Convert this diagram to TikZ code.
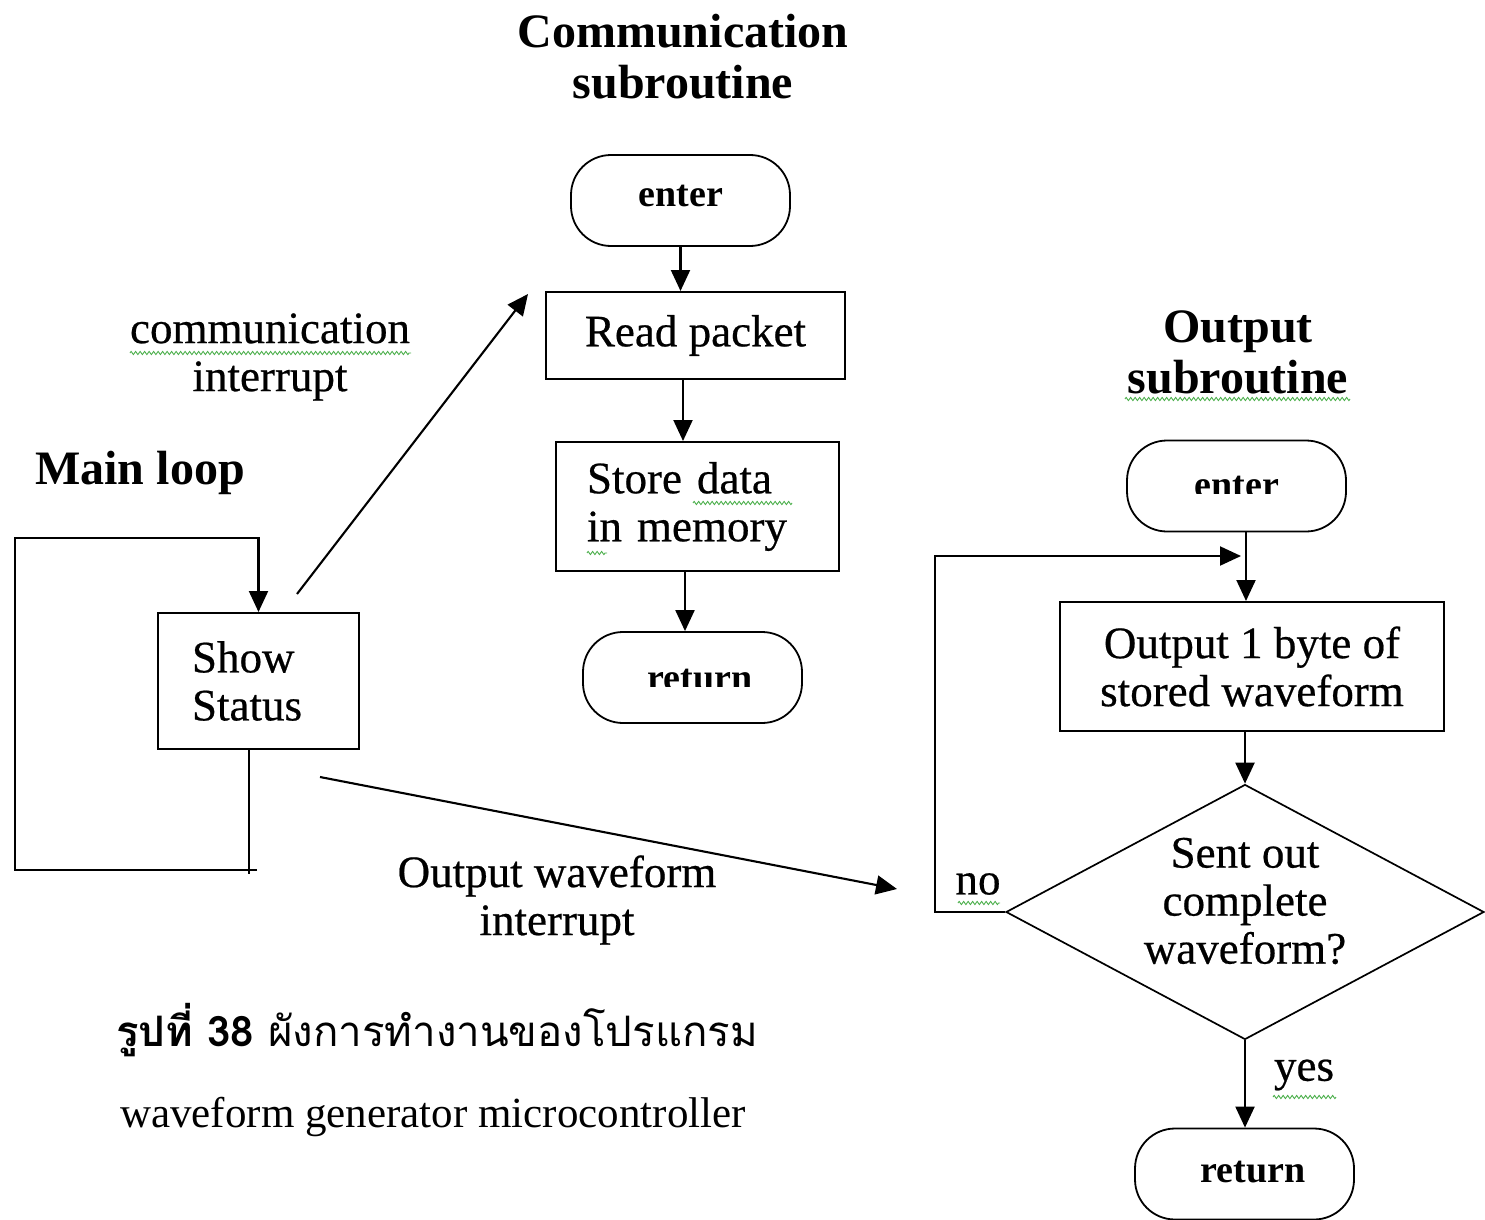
\documentclass[tikz,border=0pt]{standalone}
\usepackage{fontspec}
\setmainfont{Liberation Serif}
\newfontfamily\regfont{Liberation Serif}[FakeBold=0.5]
\newfontfamily\thaifont[Script=Thai]{Loma}
\usetikzlibrary{arrows.meta,shapes.geometric,decorations.pathmorphing}

\tikzset{
  line/.style={line width=2.1pt},
  arr/.style={line, -{Triangle[length=21pt,width=19pt]}},
  box/.style={draw, line width=2pt, inner sep=0pt, align=center,
    font=\regfont\fontsize{45}{48}\selectfont},
  term/.style={draw, line width=1.8pt, rounded corners=40pt, inner sep=0pt,
    minimum width=219pt, minimum height=91pt},
  termtext/.style={inner sep=0pt, anchor=base, font=\bfseries\fontsize{38}{40}\selectfont},
  head/.style={inner sep=0pt, align=center, font=\bfseries\fontsize{48}{51}\selectfont},
  lab/.style={inner sep=0pt, align=center, font=\regfont\fontsize{45}{48}\selectfont},
  squig/.style={draw=green!55!black!70, line width=0.9pt, decorate,
    decoration={zigzag, amplitude=1.6pt, segment length=4.5pt}},
}

\begin{document}
\begin{tikzpicture}[x=1pt,y=-1pt]
\useasboundingbox (0,0) rectangle (1485,1220);

% ---------- communication subroutine ----------
\node[head] (hcomm) at (683,57) {Communication\\subroutine};
\node[term] (enter1) at (680.5,200.5) {};
\node[termtext] (enter1t) at (681,206) {enter};
\node[box, minimum width=299pt, minimum height=87pt] (read) at (695.5,335.5) {Read packet};
\node[box, minimum height=129pt, text width=221pt, inner xsep=31pt, align=left]
  (store) at (697.5,506.5) {Store data\\in memory};
\node[term] (ret1) at (692.5,677.5) {};
\begin{scope}
  \clip (600,640) rectangle (790,686);
  \node[termtext] (ret1t) at (700,690) {return};
\end{scope}

\draw[arr] (enter1.south) -- (enter1.south |- read.north);
\draw[arr] (read.south -| 683,0) -- (683,0 |- store.north);
\draw[arr] (store.south -| 685,0) -- (685,0 |- ret1.north);

% ---------- main loop ----------
\node[head] (hmain) at (140,473) {Main loop};
\node[box, minimum height=136pt, text width=133pt, inner xsep=34pt, align=left]
  (show) at (258.5,681) {Show\\Status};
\coordinate (mlb) at (249,874);
\coordinate (ml1) at (257,870);
\coordinate (ml2) at (15,870);
\coordinate (ml3) at (15,538);
\draw[line] (show.south -| mlb) -- (mlb);
\draw[arr] (ml1) -- (ml2) -- (ml3) -| (show.north);

% communication interrupt
\node[lab] (lcomm) at (270,357) {communication\\interrupt};
\coordinate (ci1) at (297,594);
\coordinate (ci2) at (528,294);
\draw[arr] (ci1) -- (ci2);

% output waveform interrupt
\node[lab] (lout) at (557,900) {Output waveform\\interrupt};
\coordinate (oi1) at (320,777);
\coordinate (oi2) at (897,889);
\draw[arr] (oi1) -- (oi2);

% ---------- output subroutine ----------
\node[head] (hout) at (1238,352) {Output\\subroutine};
\node[term] (enter2) at (1236.5,486) {};
\begin{scope}
  \clip (1140,450) rectangle (1340,493);
  \node[termtext] (enter2t) at (1237,497) {enter};
\end{scope}
\node[box, minimum width=384pt, minimum height=129pt] (outb) at (1252,666.5)
  {Output 1 byte of\\stored waveform};
\node[draw, diamond, line width=1.7pt, inner sep=0pt, minimum width=478pt,
  minimum height=255pt] (dia) at (1245,912) {};
\node[lab] (diat) at (1245,901) {Sent out\\complete\\waveform?};
\node[term] (ret2) at (1244.5,1174) {};
\node[termtext] (ret2t) at (1253,1182) {return};

\coordinate (join) at (1246,556);
\draw[arr] (1246,0 |- enter2.south) -- (1246,0 |- outb.north);
\draw[arr] (dia.north |- outb.south) -- (dia.north);
\draw[arr, shorten >=5pt] (dia.west) -- (935,912) |- (join);
\draw[arr] (dia.south) -- (dia.south |- ret2.north);
\node[lab] (lno) at (978,884) {no};
\node[lab] (lyes) at (1304,1075) {yes};

% ---------- caption ----------
\node[inner sep=0pt, anchor=west, font=\thaifont\fontsize{42}{46}\selectfont]
  (cap1) at (116,1030) {{\bfseries รูปที่ 38} ผังการทำงานของโปรแกรม};
\node[inner sep=0pt, anchor=west, font=\fontsize{43}{46}\selectfont]
  (cap2) at (120,1117) {waveform generator microcontroller};

% ---------- spelling marks ----------
\draw[squig] (130,353) -- (411,353);
\draw[squig] (1125,399) -- (1350,399);
\draw[squig] (693,503) -- (792,503);
\draw[squig] (587,553) -- (607,553);
\draw[squig] (958,903) -- (1000,903);
\draw[squig] (1273,1097) -- (1336,1097);
\end{tikzpicture}
\end{document}
